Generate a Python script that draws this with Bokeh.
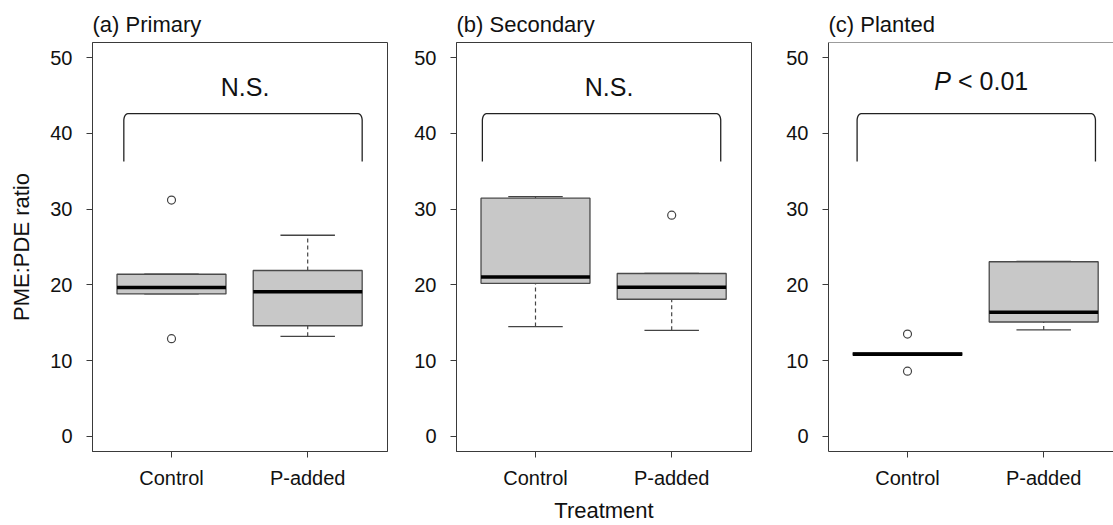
import numpy as np
from bokeh.plotting import figure
from bokeh.layouts import row
from bokeh.models import Range1d, FixedTicker, Span, ColumnDataSource
from bokeh.embed import file_html
from bokeh.resources import INLINE
from bokeh.core.properties import value

# ---------------- data ----------------
GROUPS = ["Control", "P-added"]
PANEL_TITLES = ["(a) Primary", "(b) Secondary", "(c) Planted"]
SIG_TEXT = ["N.S.", "N.S.", "P < 0.01"]
Y_TICKS = [0, 10, 20, 30, 40, 50]

# one inner list per panel: [Control, P-added]
WHISKER_LOW = [[18.8, 13.2], [14.5, 14.0], [10.7, 14.05]]
Q1 = [[18.8, 14.6], [20.2, 18.1], [10.7, 15.1]]
MEDIAN = [[19.65, 19.1], [21.05, 19.7], [10.85, 16.4]]
Q3 = [[21.4, 21.9], [31.45, 21.5], [11.05, 23.05]]
WHISKER_HIGH = [[21.4, 26.55], [31.65, 21.5], [11.05, 23.1]]
OUTLIERS = [[[31.2, 12.9], []], [[], [29.2]], [[13.5, 8.6], []]]

# ---------------- layout / style ----------------
FONT = "Liberation Sans"
TEXT_COLOR = "#111111"
AXIS_COLOR = "#3a3a3a"
BOX_FILL = "#c8c8c8"
BOX_LINE = "#4a4a4a"
WHISK_COLOR = "#444444"

X_START = 0.42
PX_PER_UNIT_X = 136.2
Y_RANGE = (-2, 52)
FRAME_W = [295, 295, 285]
LEFT_B = [92, 64, 72]
RIGHT_B = [5, 5, 0]
HEIGHT = 525
TOP_B = 42
BOTTOM_B = 70

BOX_HALF = 0.4
CAP_HALF = 0.2
BRACKET_X = [(0.65, 2.40), (0.61, 2.36), (0.63, 2.38)]
BRACKET_Y = (36.3, 42.6)
BRACKET_RX = 0.03
BRACKET_RY = 0.9
SIG_X = 1.54
SIG_Y = [46.1, 46.1, 46.9]


def bracket_path(x0, x1, y0, y1):
    th = np.linspace(0, np.pi / 2, 20)
    lx = x0 + BRACKET_RX - BRACKET_RX * np.cos(th)
    ly = y1 - BRACKET_RY + BRACKET_RY * np.sin(th)
    rx = x1 - BRACKET_RX + BRACKET_RX * np.cos(th[::-1])
    ry = y1 - BRACKET_RY + BRACKET_RY * np.sin(th[::-1])
    xs = np.concatenate([[x0], lx, rx, [x1]])
    ys = np.concatenate([[y0], ly, ry, [y0]])
    return xs, ys


def make_panel(i):
    fw = FRAME_W[i]
    p = figure(width=LEFT_B[i] + fw + RIGHT_B[i], height=HEIGHT,
               output_backend="svg", toolbar_location=None,
               x_range=Range1d(X_START, X_START + fw / PX_PER_UNIT_X),
               y_range=Range1d(*Y_RANGE),
               min_border_left=LEFT_B[i], min_border_right=RIGHT_B[i],
               min_border_top=TOP_B, min_border_bottom=BOTTOM_B)
    p.grid.visible = False
    p.background_fill_color = "white"
    p.border_fill_color = "white"
    if i < 2:
        p.outline_line_color = AXIS_COLOR
        p.outline_line_width = 1
    else:
        p.outline_line_color = None
        p.add_layout(Span(location=Y_RANGE[1], dimension="width",
                          line_color=AXIS_COLOR, line_width=1))

    p.title.text = PANEL_TITLES[i]
    p.title.text_font = FONT
    p.title.text_font_size = "22px"
    p.title.text_font_style = "normal"
    p.title.text_color = TEXT_COLOR
    p.title.align = "left"
    p.title.standoff = 11

    xs = np.arange(1, len(GROUPS) + 1)
    src = ColumnDataSource(dict(
        x=xs,
        left=xs - BOX_HALF, right=xs + BOX_HALF,
        cl=xs - CAP_HALF, cr=xs + CAP_HALF,
        wl=WHISKER_LOW[i], q1=Q1[i], med=MEDIAN[i], q3=Q3[i], wh=WHISKER_HIGH[i],
    ))
    # whiskers (dashed)
    p.segment(x0="x", y0="q3", x1="x", y1="wh", source=src,
              line_color=WHISK_COLOR, line_width=1.2, line_dash="4 3")
    p.segment(x0="x", y0="wl", x1="x", y1="q1", source=src,
              line_color=WHISK_COLOR, line_width=1.2, line_dash="4 3")
    # caps
    p.segment(x0="cl", y0="wh", x1="cr", y1="wh", source=src,
              line_color=WHISK_COLOR, line_width=1.3)
    p.segment(x0="cl", y0="wl", x1="cr", y1="wl", source=src,
              line_color=WHISK_COLOR, line_width=1.3)
    # boxes
    p.quad(left="left", right="right", bottom="q1", top="q3", source=src,
           fill_color=BOX_FILL, line_color=BOX_LINE, line_width=1.3)
    # medians
    p.segment(x0="left", y0="med", x1="right", y1="med", source=src,
              line_color="black", line_width=3.5, line_cap="butt")
    # outliers
    ox, oy = [], []
    for g, vals in enumerate(OUTLIERS[i]):
        ox += [xs[g]] * len(vals)
        oy += vals
    if ox:
        p.scatter(x=ox, y=oy, marker="circle", size=8, fill_color=None,
                  line_color=WHISK_COLOR, line_width=1.2)

    # significance bracket and text
    bx, by = bracket_path(BRACKET_X[i][0], BRACKET_X[i][1], *BRACKET_Y)
    p.line(bx, by, line_color="#222222", line_width=1.3)
    txt = SIG_TEXT[i]
    if txt.startswith("P "):
        p.text(x=[SIG_X], y=[SIG_Y[i]], text=["P"], text_font=value(FONT),
               text_font_size="25px", text_font_style="italic",
               text_align="right", text_baseline="middle",
               text_color=TEXT_COLOR, x_offset=-30)
        p.text(x=[SIG_X], y=[SIG_Y[i]], text=[txt[2:]], text_font=value(FONT),
               text_font_size="25px", text_align="left", text_baseline="middle",
               text_color=TEXT_COLOR, x_offset=-23)
    else:
        p.text(x=[SIG_X], y=[SIG_Y[i]], text=[txt], text_font=value(FONT),
               text_font_size="25px", text_align="center", text_baseline="middle",
               text_color=TEXT_COLOR)

    # axes
    p.xaxis.ticker = FixedTicker(ticks=list(xs))
    p.xaxis.major_label_overrides = {int(x): g for x, g in zip(xs, GROUPS)}
    p.yaxis.ticker = FixedTicker(ticks=Y_TICKS)
    for ax in (p.xaxis, p.yaxis):
        ax.axis_line_color = AXIS_COLOR
        ax.major_tick_line_color = AXIS_COLOR
        ax.major_tick_out = 6
        ax.major_tick_in = 0
        ax.minor_tick_line_color = None
        ax.major_label_text_font = FONT
        ax.major_label_text_font_size = "20px"
        ax.major_label_text_color = TEXT_COLOR
        ax.axis_label_text_font = FONT
        ax.axis_label_text_font_size = "22px"
        ax.axis_label_text_font_style = "normal"
        ax.axis_label_text_color = TEXT_COLOR
    p.yaxis.major_label_standoff = 14
    p.xaxis.major_label_standoff = 9
    if i == 0:
        p.yaxis.axis_label = "PME:PDE ratio"
        p.yaxis.axis_label_standoff = 13
    if i == 1:
        p.xaxis.axis_label = "Treatment"
        p.xaxis.axis_label_standoff = 6
    return p


panels = [make_panel(i) for i in range(3)]
layout = row(*panels, spacing=0)
open("out.html", "w").write(file_html(layout, INLINE))
